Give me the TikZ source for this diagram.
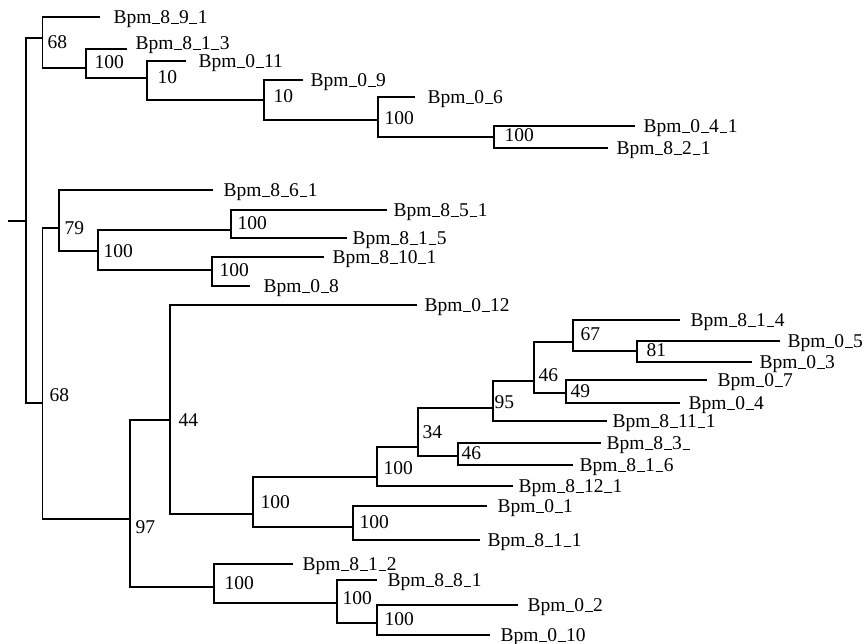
\documentclass[tikz,border=0pt]{standalone}
\usepackage{fontspec}
\setmainfont{Liberation Serif}
\newcommand\usc{\kern0.03em\rule[-0.05em]{0.4em}{0.07em}\kern0.03em}
\begin{document}
\begin{tikzpicture}[x=1pt,y=-1pt,line width=1.1pt,
  leaf/.style={anchor=west,inner ysep=0pt,text height=13pt,text depth=0pt,font=\fontsize{19.5}{21}\selectfont},
  blab/.style={anchor=west,inner sep=0pt,text height=13pt,text depth=0pt,font=\fontsize{19.5}{21}\selectfont}]
\useasboundingbox (0,0) rectangle (865,644);
% internal nodes
\coordinate (r0) at (26,221);
\coordinate (rt) at (8,221);
\coordinate (A) at (42.5,38);
\coordinate (B) at (86,68);
\coordinate (C) at (147,78);
\coordinate (D) at (264,100);
\coordinate (E) at (378,120);
\coordinate (F) at (494,137);
\coordinate (G) at (42.5,403);
\coordinate (W) at (59,228);
\coordinate (X) at (98,251);
\coordinate (Y) at (231,230);
\coordinate (Z) at (212,270);
\coordinate (H) at (130,519);
\coordinate (I) at (170,420);
\coordinate (K) at (253,514);
\coordinate (L) at (377,477);
\coordinate (N) at (418,447);
\coordinate (O) at (493,408);
\coordinate (P) at (534,381);
\coordinate (Q) at (573,342);
\coordinate (R) at (637,351);
\coordinate (S) at (566,393);
\coordinate (T) at (458,456);
\coordinate (M) at (353,527);
\coordinate (J) at (214,587);
\coordinate (U) at (337,603);
\coordinate (V) at (377,623);
% leaves
\node[leaf,inner xsep=13pt] (l891) at (100,17) {Bpm\usc 8\usc 9\usc 1};
\coordinate (e813) at (127,49);
\node[leaf,inner xsep=0pt] (l813) at (135,43) {Bpm\usc 8\usc 1\usc 3};
\node[leaf,inner xsep=12pt] (l011) at (186,61) {Bpm\usc 0\usc 11};
\node[leaf,inner xsep=7pt] (l09) at (303,80) {Bpm\usc 0\usc 9};
\node[leaf,inner xsep=12pt] (l06) at (415,97) {Bpm\usc 0\usc 6};
\node[leaf,inner xsep=8pt] (l041) at (635,126) {Bpm\usc 0\usc 4\usc 1};
\node[leaf,inner xsep=8pt] (l821) at (608,148) {Bpm\usc 8\usc 2\usc 1};
\node[leaf,inner xsep=10pt] (l861) at (213,190) {Bpm\usc 8\usc 6\usc 1};
\node[leaf,inner xsep=6pt] (l851) at (387,210) {Bpm\usc 8\usc 5\usc 1};
\node[leaf,inner xsep=5pt] (l815) at (347,238) {Bpm\usc 8\usc 1\usc 5};
\node[leaf,inner xsep=8pt] (l8101) at (324,257) {Bpm\usc 8\usc 10\usc 1};
\node[leaf,inner xsep=13pt] (l08) at (250,286) {Bpm\usc 0\usc 8};
\node[leaf,inner xsep=7pt] (l012) at (417,305) {Bpm\usc 0\usc 12};
\node[leaf,inner xsep=10pt] (l814) at (680,320) {Bpm\usc 8\usc 1\usc 4};
\node[leaf,inner xsep=7pt] (l05) at (780,341) {Bpm\usc 0\usc 5};
\node[leaf,inner xsep=7pt] (l03) at (752,362) {Bpm\usc 0\usc 3};
\node[leaf,inner xsep=10pt] (l07) at (707,380) {Bpm\usc 0\usc 7};
\node[leaf,inner xsep=8pt] (l04) at (680,403) {Bpm\usc 0\usc 4};
\node[leaf,inner xsep=5pt] (l8111) at (607,421) {Bpm\usc 8\usc 11\usc 1};
\node[leaf,inner xsep=5pt] (l83) at (601,443) {Bpm\usc 8\usc 3\usc};
\node[leaf,inner xsep=6pt] (l816) at (573,465) {Bpm\usc 8\usc 1\usc 6};
\node[leaf,inner xsep=5pt] (l8121) at (513,486) {Bpm\usc 8\usc 12\usc 1};
\node[leaf,inner xsep=10pt] (l01) at (487,506) {Bpm\usc 0\usc 1};
\node[leaf,inner xsep=7pt] (l811) at (480,540) {Bpm\usc 8\usc 1\usc 1};
\node[leaf,inner xsep=9pt] (l812) at (293,564) {Bpm\usc 8\usc 1\usc 2};
\node[leaf,inner xsep=10pt] (l881) at (377,580) {Bpm\usc 8\usc 8\usc 1};
\node[leaf,inner xsep=9pt] (l02) at (518,605) {Bpm\usc 0\usc 2};
\node[leaf,inner xsep=10pt] (l010) at (490,635) {Bpm\usc 0\usc 10};
% branches
\draw (rt) -- (r0);
\draw (A) -| (r0) |- (G);
\draw (l891.west) -| (A) |- (B);
\draw (e813) -| (B) |- (C);
\draw (l011.west) -| (C) |- (D);
\draw (l09.west) -| (D) |- (E);
\draw (l06.west) -| (E) |- (F);
\draw (l041.west) -| (F) |- (l821.west);
\draw (W) -| (G) |- (H);
\draw (l861.west) -| (W) |- (X);
\draw (Y) -| (X) |- (Z);
\draw (l851.west) -| (Y) |- (l815.west);
\draw (l8101.west) -| (Z) |- (l08.west);
\draw (I) -| (H) |- (J);
\draw (l012.west) -| (I) |- (K);
\draw (L) -| (K) |- (M);
\draw (N) -| (L) |- (l8121.west);
\draw (O) -| (N) |- (T);
\draw (P) -| (O) |- (l8111.west);
\draw (Q) -| (P) |- (S);
\draw (l814.west) -| (Q) |- (R);
\draw (l05.west) -| (R) |- (l03.west);
\draw (l07.west) -| (S) |- (l04.west);
\draw (l83.west) -| (T) |- (l816.west);
\draw (l01.west) -| (M) |- (l811.west);
\draw (l812.west) -| (J) |- (U);
\draw (l881.west) -| (U) |- (V);
\draw (l02.west) -| (V) |- (l010.west);
% bootstrap labels
\node[blab] (bA) at (47,42) {68};
\node[blab] (bB) at (94,62) {100};
\node[blab] (bC) at (157,77) {10};
\node[blab] (bD) at (273,96) {10};
\node[blab] (bE) at (384,118) {100};
\node[blab] (bF) at (504,135) {100};
\node[blab] (bG) at (49,395) {68};
\node[blab] (bW) at (64,228) {79};
\node[blab] (bX) at (103,251) {100};
\node[blab] (bY) at (237,223) {100};
\node[blab] (bZ) at (219,270) {100};
\node[blab] (bH) at (135,527) {97};
\node[blab] (bI) at (178,420) {44};
\node[blab] (bK) at (260,502) {100};
\node[blab] (bL) at (383,468) {100};
\node[blab] (bN) at (422,432) {34};
\node[blab] (bO) at (494,402) {95};
\node[blab] (bP) at (538,375) {46};
\node[blab] (bQ) at (580,334) {67};
\node[blab] (bR) at (646,350) {81};
\node[blab] (bS) at (570,391) {49};
\node[blab] (bT) at (461,453) {46};
\node[blab] (bM) at (359,522) {100};
\node[blab] (bJ) at (224,583) {100};
\node[blab] (bU) at (342,598) {100};
\node[blab] (bV) at (384,619) {100};
\end{tikzpicture}
\end{document}
